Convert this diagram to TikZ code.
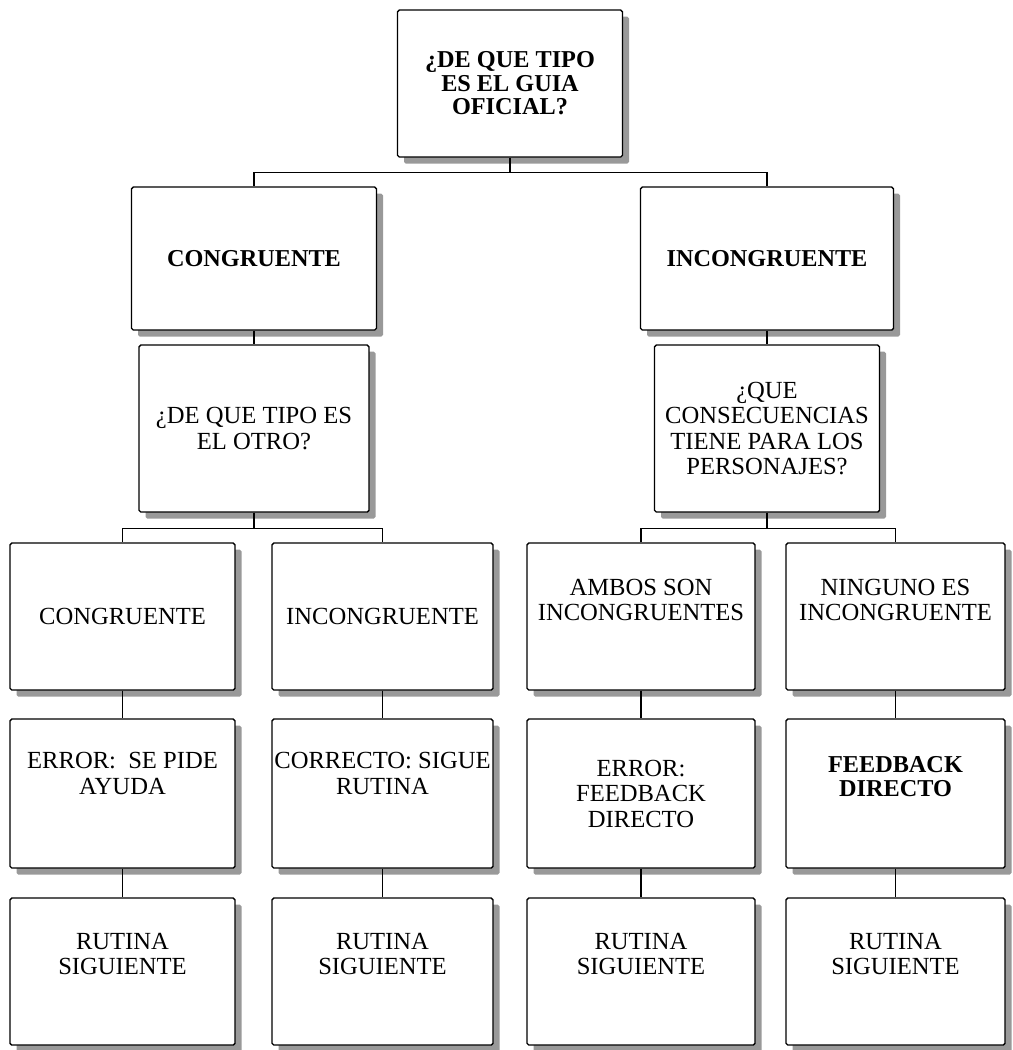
\documentclass[tikz,border=0pt]{standalone}
\usepackage{fontspec}
\setmainfont{Liberation Serif}
\usepackage{tikz}
\usetikzlibrary{shadows,positioning}

\begin{document}
\begin{tikzpicture}[
    box/.style={rectangle, draw, line width=0.8pt, rounded corners=1pt, fill=white,
        align=center, inner sep=1pt, minimum width=4.5cm, minimum height=2.94cm,
        font=\fontsize{14}{14.5}\selectfont,
        drop shadow={shadow xshift=0.13cm, shadow yshift=-0.13cm, fill=gray!80, opacity=1}},
    boldbox/.style={box, font=\fontsize{13.8}{13.4}\selectfont\bfseries},
    link/.style={line width=0.8pt}
]
\useasboundingbox (0,0) rectangle (20.26,-21);

% Root question
\node[boldbox, minimum width=4.5cm, minimum height=2.94cm] (guia) at (10.2,-1.67) {¿DE QUE TIPO\\ES EL GUIA\\OFICIAL?};

% Guide type
\node[boldbox, minimum width=4.9cm, minimum height=2.86cm] (cong) at (5.08,-5.17) {CONGRUENTE};
\node[boldbox, minimum width=5.06cm, minimum height=2.86cm] (incong) at (15.34,-5.17) {INCONGRUENTE};

% Second questions
\node[box, minimum width=4.6cm, minimum height=3.34cm] (otro) at (5.08,-8.57) {¿DE QUE TIPO ES\\EL OTRO?};
\node[box, minimum width=4.5cm, minimum height=3.34cm] (conse) at (15.34,-8.57) {¿QUE\\CONSECUENCIAS\\TIENE PARA LOS\\PERSONAJES?};

% Answers
\node[box] (otrocong) at (2.45,-12.33) {CONGRUENTE};
\node[box, minimum width=4.42cm] (otroinc) at (7.65,-12.33) {INCONGRUENTE};
\node[box, minimum width=4.56cm] (ambos) at (12.82,-12.33) {AMBOS SON\\INCONGRUENTES\\[0.15cm]};
\node[box, minimum width=4.38cm] (ninguno) at (17.91,-12.33) {NINGUNO ES\\INCONGRUENTE\\[0.15cm]};

% Outcomes
\node[box, minimum height=2.98cm] (ayuda) at (2.45,-15.87) {ERROR:~ SE PIDE\\AYUDA\\[0.3cm]};
\node[box, minimum width=4.42cm, minimum height=2.98cm] (correcto) at (7.65,-15.87) {CORRECTO: SIGUE\\RUTINA\\[0.3cm]};
\node[box, minimum width=4.56cm, minimum height=2.98cm] (errfb) at (12.82,-15.87) {ERROR:\\FEEDBACK\\DIRECTO};
\node[boldbox, minimum width=4.38cm, minimum height=2.98cm] (feedback) at (17.91,-15.87) {FEEDBACK\\DIRECTO\\[0.2cm]};

% Next routine
\node[box] (sig1) at (2.45,-19.43) {RUTINA\\SIGUIENTE\\[0.2cm]};
\node[box, minimum width=4.42cm] (sig2) at (7.65,-19.43) {RUTINA\\SIGUIENTE\\[0.2cm]};
\node[box, minimum width=4.56cm] (sig3) at (12.82,-19.43) {RUTINA\\SIGUIENTE\\[0.2cm]};
\node[box, minimum width=4.38cm] (sig4) at (17.91,-19.43) {RUTINA\\SIGUIENTE\\[0.2cm]};

% Connectors
\draw[link] (guia.south) -- ++(0,-0.3) coordinate (bar1);
\draw[link] (bar1) -| (cong.north);
\draw[link] (bar1) -| (incong.north);

\draw[link] (cong.south) -- (otro.north);
\draw[link] (incong.south) -- (conse.north);

\draw[link] (otro.south) -- ++(0,-0.32) coordinate (bar2);
\draw[link] (bar2) -| (otrocong.north);
\draw[link] (bar2) -| (otroinc.north);
\draw[link] (conse.south) -- ++(0,-0.32) coordinate (bar3);
\draw[link] (bar3) -| (ambos.north);
\draw[link] (bar3) -| (ninguno.north);

\draw[link] (otrocong.south) -- (ayuda.north);
\draw[link] (otroinc.south) -- (correcto.north);
\draw[link] (ambos.south) -- (errfb.north);
\draw[link] (ninguno.south) -- (feedback.north);

\draw[link] (ayuda.south) -- (sig1.north);
\draw[link] (correcto.south) -- (sig2.north);
\draw[link] (errfb.south) -- (sig3.north);
\draw[link] (feedback.south) -- (sig4.north);

\end{tikzpicture}
\end{document}
